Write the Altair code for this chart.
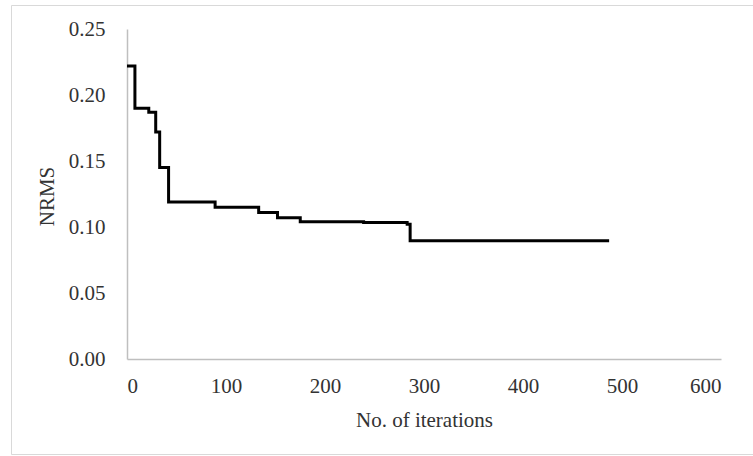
import altair as alt
import pandas as pd

# Best NRMS found so far at each iteration where it improved (step curve)
iterations = [0, 8, 22, 29, 33, 42, 89, 133, 152, 175, 239, 283, 286, 487]
nrms = [0.222, 0.190, 0.187, 0.172, 0.145, 0.119, 0.115, 0.111, 0.107,
        0.104, 0.1035, 0.102, 0.0895, 0.0895]

x_ticks = [0, 100, 200, 300, 400, 500, 600]
y_ticks = [0.00, 0.05, 0.10, 0.15, 0.20, 0.25]

df = pd.DataFrame({"iter": iterations, "nrms": nrms})

FONT = "Liberation Serif"
W, H = 594, 330
PAD_L, PAD_T, PAD_R, PAD_B = 127, 29, 32, 97

line = alt.Chart(df).mark_line(
    interpolate="step-after", color="black", strokeWidth=3
).encode(
    x=alt.X(
        "iter:Q",
        scale=alt.Scale(domain=[0, 600], nice=False),
        axis=alt.Axis(
            title="No. of iterations",
            values=x_ticks,
            format="d",
            grid=False,
            ticks=False,
            domainColor="#bfbfbf",
            labelPadding=16,
            titleX=W / 2,
            titleY=61,
            titleBaseline="middle",
        ),
    ),
    y=alt.Y(
        "nrms:Q",
        scale=alt.Scale(domain=[0, 0.25], nice=False),
        axis=alt.Axis(
            title="NRMS",
            values=y_ticks,
            format=".2f",
            grid=False,
            ticks=False,
            domainColor="#bfbfbf",
            labelPadding=22,
            titleAngle=-90,
            titleX=-80,
            titleY=167,
            titleAlign="center",
            titleBaseline="middle",
        ),
    ),
)

# Light frame around the whole chart area
frame = alt.Chart(pd.DataFrame({"k": [0]})).mark_rect(
    fill=None, stroke="#d9d9d9", strokeWidth=1
).encode(
    x=alt.value(-PAD_L + 11.5),
    x2=alt.value(W + PAD_R + 5),
    y=alt.value(-PAD_T + 5.5),
    y2=alt.value(H + PAD_B - 1.5),
)

chart = alt.layer(frame, line).properties(
    width=W,
    height=H,
    padding={"left": PAD_L, "top": PAD_T, "right": PAD_R, "bottom": PAD_B},
    autosize=alt.AutoSizeParams(type="none"),
    background="white",
).configure_view(
    stroke=None
).configure_axis(
    labelFont=FONT,
    titleFont=FONT,
    labelFontSize=21,
    titleFontSize=21,
    labelColor="#333333",
    titleColor="#333333",
    titleFontWeight="normal",
    domainWidth=1.5,
)

chart.save("out.html", embed_options={"renderer": "svg", "actions": False})
